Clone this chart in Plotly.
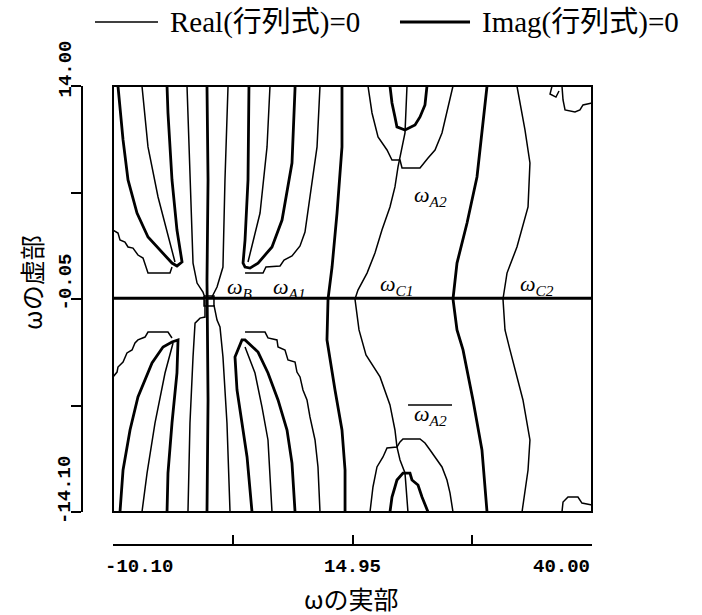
import plotly.graph_objects as go

# Axis ranges (real part / imaginary part of omega) and tick marks
RE_MIN, RE_MAX = -10.10, 40.00
IM_MIN, IM_MAX = -14.10, 14.00
x_tick_vals = [-10.10, 2.425, 14.95, 27.475, 40.00]
x_tick_text = ["-10.10", "", "14.95", "", "40.00"]
y_tick_vals = [-14.10, -7.075, -0.05, 6.975, 14.00]
y_tick_text = ["-14.10", "", "-0.05", "", "14.00"]

# ---------------- Imag(det) = 0 contours (thick) ----------------
im_axis_x = [-10.10, 40.00]
im_axis_y = [0.0, 0.0]

im_ul_u_x = [-9.58, -9.37, -9.05, -8.53, -7.59, -6.44, -4.87, -3.93, -3.41, -2.88, -3.41, -3.93, -4.35, -4.45]
im_ul_u_y = [14.00, 12.42, 10.44, 7.80, 5.62, 4.04, 2.98, 2.32, 2.13, 2.39, 4.50, 7.80, 12.22, 14.00]

im_center_x = [-0.27, -0.16, -0.27, -0.16, -0.27]
im_center_y = [14.00, 7.80, 1.20, -6.71, -14.10]

im_ur_u_x = [4.12, 4.02, 3.71, 3.50, 3.71, 4.23, 5.07, 6.53, 7.58, 8.62, 8.94, 8.94]
im_ur_u_y = [14.00, 7.80, 3.84, 2.32, 2.06, 1.99, 2.32, 3.38, 5.16, 8.92, 13.87, 14.00]

im_c1_left_x = [13.85, 13.85, 13.33, 12.81, 12.39, 12.28, 13.12, 13.85, 14.17, 14.17]
im_c1_left_y = [14.00, 9.98, 5.62, 2.06, -0.05, -2.75, -6.05, -8.69, -11.33, -14.10]

im_a2_up_x = [18.87, 19.08, 19.39, 19.60, 20.44, 21.49, 22.01, 22.53, 22.74]
im_a2_up_y = [14.00, 12.88, 11.96, 11.30, 11.10, 11.43, 11.96, 12.75, 14.00]

im_c1_right_x = [29.02, 28.49, 27.97, 26.93, 25.88, 25.46, 25.88, 26.51, 27.55, 28.49, 29.02]
im_c1_right_y = [14.00, 11.10, 8.00, 4.96, 2.32, -0.05, -2.09, -3.41, -6.71, -10.01, -14.10]

im_ll_u_x = [-9.37, -9.05, -8.32, -7.49, -6.02, -4.87, -3.93, -3.30, -3.41, -3.93, -4.35, -4.45]
im_ll_u_y = [-14.10, -11.33, -8.69, -6.51, -4.27, -3.22, -2.89, -2.75, -4.93, -8.23, -11.53, -14.10]

im_lr_u_x = [4.44, 3.92, 3.39, 2.87, 2.66, 3.39, 3.71, 5.07, 6.11, 7.16, 8.10, 8.62, 8.94]
im_lr_u_y = [-14.10, -10.47, -8.23, -6.05, -3.87, -2.75, -2.75, -3.55, -4.93, -6.71, -8.69, -10.87, -14.10]

im_a2_low_x = [18.87, 19.08, 19.39, 19.60, 20.23, 20.96, 21.17, 21.80, 22.22, 22.85]
im_a2_low_y = [-14.10, -13.11, -12.45, -11.99, -11.53, -11.53, -11.99, -12.32, -13.11, -14.10]

# ---------------- Real(det) = 0 contours (thin) ----------------
re_ul_mid_x = [-7.07, -6.44, -5.39, -4.45, -3.82, -3.62]
re_ul_mid_y = [14.00, 9.98, 6.68, 4.50, 2.98, 2.39]

re_ul_stair_x = [-10.10, -9.58, -9.37, -8.85, -8.53, -8.01, -7.49, -6.96, -6.44, -4.14, -3.93]
re_ul_stair_y = [4.50, 4.30, 3.84, 3.71, 3.38, 3.31, 2.85, 2.65, 1.66, 1.66, 2.06]

re_cu_left_x = [-2.36, -2.05, -1.73, -1.31, -0.69, -0.48]
re_cu_left_y = [14.00, 7.80, 2.32, 1.00, 0.41, 0.01]

re_cu_right_x = [1.93, 1.61, 1.40, 0.78, 0.25]
re_cu_right_y = [14.00, 7.80, 2.06, 0.74, 0.08]

re_ur_mid_x = [6.32, 6.01, 5.28, 4.44, 4.02]
re_ur_mid_y = [14.00, 9.98, 5.62, 3.38, 2.39]

re_ur_stair_x = [3.71, 5.59, 5.90, 7.37, 7.79, 8.62, 9.46, 9.98, 10.50, 11.24, 11.55]
re_ur_stair_y = [1.66, 1.66, 2.06, 2.13, 2.52, 2.79, 3.45, 4.37, 6.68, 9.98, 14.00]

re_center_box_x = [-0.58, 0.46, 0.46, -0.58, -0.58]
re_center_box_y = [0.15, 0.15, -0.52, -0.52, 0.15]

re_a2_through_x = [20.65, 20.55, 20.44, 19.71, 19.39, 18.87, 18.03, 17.30, 16.47, 15.52, 15.21,
                   15.63, 16.36, 17.83, 18.87, 19.39, 19.60, 19.92, 20.44, 20.75]
re_a2_through_y = [14.00, 12.22, 10.90, 8.66, 7.34, 6.02, 4.50, 2.98, 1.66, 0.54, -0.05,
                   -2.09, -3.74, -5.19, -7.04, -8.69, -9.81, -10.67, -11.53, -14.10]

re_a2_up_x = [16.57, 16.99, 17.62, 18.56, 19.08, 19.92, 20.13, 22.01, 22.85, 23.58, 24.31, 24.83, 25.46]
re_a2_up_y = [14.00, 12.22, 10.64, 9.78, 9.12, 9.12, 8.59, 8.59, 9.25, 9.78, 10.90, 12.22, 14.00]

re_c2_x = [32.15, 32.99, 33.51, 33.31, 32.15, 31.11, 30.69, 30.90, 31.42, 32.78, 33.51, 33.31, 32.68]
re_c2_y = [14.00, 11.10, 8.92, 6.02, 3.38, 1.66, -0.05, -2.09, -3.41, -6.71, -9.35, -11.33, -14.10]

re_corner_top_x = [36.86, 36.97, 37.18, 38.22, 38.74, 39.06, 40.00]
re_corner_top_y = [14.00, 13.08, 12.42, 12.29, 12.42, 12.75, 12.88]

re_corner_hook_x = [35.82, 35.61, 36.23, 36.55]
re_corner_hook_y = [14.00, 13.47, 13.27, 13.67]

re_corner_bot_x = [36.86, 36.97, 37.49, 38.53, 38.95, 40.00]
re_corner_bot_y = [-14.10, -13.44, -13.11, -13.11, -13.51, -13.64]

re_cl_left_x = [-0.48, -0.48, -1.00, -1.52, -1.73, -2.05, -2.26]
re_cl_left_y = [-0.12, -1.24, -1.31, -1.64, -3.87, -8.23, -14.10]

re_cl_right_x = [0.46, 0.78, 1.09, 1.40, 1.82, 2.14]
re_cl_right_y = [-0.45, -1.44, -1.90, -3.87, -8.23, -14.10]

re_ll_stair_x = [-10.10, -9.68, -9.58, -9.05, -8.64, -8.11, -7.80, -7.49, -6.75, -6.44, -4.35, -3.93]
re_ll_stair_y = [-5.19, -4.87, -4.54, -4.21, -3.61, -3.41, -2.95, -2.75, -2.56, -2.23, -2.23, -2.62]

re_ll_mid_x = [-3.82, -4.66, -5.71, -6.54, -7.07]
re_ll_mid_y = [-2.95, -4.93, -8.23, -11.53, -14.10]

re_lr_mid_x = [3.71, 4.75, 5.48, 6.11, 6.53]
re_lr_mid_y = [-3.22, -4.93, -7.17, -9.35, -14.10]

re_lr_stair_x = [3.71, 5.80, 6.11, 7.05, 7.16, 7.89, 8.20, 8.94, 9.14, 9.46, 9.77, 10.19, 10.50, 11.03, 11.34, 11.55]
re_lr_stair_y = [-2.23, -2.23, -2.62, -2.75, -3.22, -3.41, -4.07, -4.21, -4.87, -5.19, -6.05, -6.71, -7.83, -9.35, -11.13, -14.10]

re_a2_low_x = [16.78, 17.09, 17.51, 18.14, 18.56, 19.60, 19.92, 20.23, 22.01, 22.53, 23.06, 23.79, 24.31, 24.83, 25.15, 25.46]
re_a2_low_y = [-14.10, -12.45, -11.13, -10.47, -9.88, -9.81, -9.48, -9.28, -9.28, -9.55, -10.01, -10.67, -11.13, -11.99, -12.85, -14.10]

# Root labels
root_text = ["ω<sub>B</sub>", "ω<sub>A1</sub>", "ω<sub>C1</sub>", "ω<sub>C2</sub>", "ω<sub>A2</sub>", "ω<sub>A2</sub>"]
root_re = [3.18, 8.41, 19.60, 34.25, 23.16, 23.06]
root_im = [0.67, 0.67, 0.87, 0.87, 6.74, -7.70]
root_conj = [False, False, False, False, False, True]

imag_curves = [
    (im_axis_x, im_axis_y), (im_ul_u_x, im_ul_u_y), (im_center_x, im_center_y),
    (im_ur_u_x, im_ur_u_y), (im_c1_left_x, im_c1_left_y), (im_a2_up_x, im_a2_up_y),
    (im_c1_right_x, im_c1_right_y), (im_ll_u_x, im_ll_u_y), (im_lr_u_x, im_lr_u_y),
    (im_a2_low_x, im_a2_low_y),
]
real_curves = [
    (re_ul_mid_x, re_ul_mid_y), (re_ul_stair_x, re_ul_stair_y), (re_cu_left_x, re_cu_left_y),
    (re_cu_right_x, re_cu_right_y), (re_ur_mid_x, re_ur_mid_y), (re_ur_stair_x, re_ur_stair_y),
    (re_center_box_x, re_center_box_y), (re_a2_through_x, re_a2_through_y), (re_a2_up_x, re_a2_up_y),
    (re_c2_x, re_c2_y), (re_corner_top_x, re_corner_top_y), (re_corner_hook_x, re_corner_hook_y),
    (re_corner_bot_x, re_corner_bot_y), (re_cl_left_x, re_cl_left_y), (re_cl_right_x, re_cl_right_y),
    (re_ll_stair_x, re_ll_stair_y), (re_ll_mid_x, re_ll_mid_y), (re_lr_mid_x, re_lr_mid_y),
    (re_lr_stair_x, re_lr_stair_y), (re_a2_low_x, re_a2_low_y),
]

THIN_W = 1.5
THICK_W = 2.8

fig = go.Figure()
for xs, ys in real_curves:
    fig.add_trace(go.Scatter(x=xs, y=ys, mode="lines", showlegend=False, hoverinfo="skip",
                             line=dict(color="black", width=THIN_W)))
for xs, ys in imag_curves:
    fig.add_trace(go.Scatter(x=xs, y=ys, mode="lines", showlegend=False, hoverinfo="skip",
                             line=dict(color="black", width=THICK_W)))

MONO = "Liberation Mono, DejaVu Sans Mono, monospace"
SERIF = "Liberation Serif, Noto Sans CJK JP, serif"
CJK = "Noto Sans CJK JP, sans-serif"

annotations = []
shapes = []

# Frame around the data region
shapes.append(dict(type="rect", xref="x domain", yref="y domain", x0=0, x1=1, y0=0, y1=1,
                   line=dict(color="black", width=2)))

# Root labels
for txt, xr, yi, conj in zip(root_text, root_re, root_im, root_conj):
    annotations.append(dict(x=xr, y=yi, xref="x", yref="y", text="<i>" + txt + "</i>",
                            showarrow=False, xanchor="center", yanchor="middle",
                            font=dict(family=SERIF, size=22, color="black")))
    if conj:
        shapes.append(dict(type="line", xref="x", yref="y", x0=xr - 2.3, x1=xr + 2.3,
                           y0=yi + 0.66, y1=yi + 0.66, line=dict(color="black", width=1.6)))

# Tick labels on the detached axes
for i, (v, t) in enumerate(zip(x_tick_vals, x_tick_text)):
    if not t:
        continue
    anchor = "left" if i == 0 else ("right" if i == len(x_tick_vals) - 1 else "center")
    shift = -10 if i == 0 else 0
    annotations.append(dict(x=v, y=-0.048, xref="x", yref="paper", text="<b>" + t + "</b>",
                            showarrow=False, xanchor=anchor, yanchor="middle", xshift=shift,
                            font=dict(family=MONO, size=19, color="black")))
for v, t in zip(y_tick_vals, y_tick_text):
    if not t:
        continue
    annotations.append(dict(x=-0.0333, y=v, xref="paper", yref="y", text="<b>" + t + "</b>",
                            showarrow=False, textangle=-90, xanchor="center", yanchor="bottom",
                            yshift=-14, font=dict(family=MONO, size=19, color="black")))

# Axis titles
annotations.append(dict(x=0.529, y=-0.1155, xref="paper", yref="paper", text="ωの実部",
                        showarrow=False, xanchor="center", yanchor="middle",
                        font=dict(family=CJK, size=25, color="black")))
annotations.append(dict(x=-0.10, y=0.571, xref="paper", yref="paper", text="ωの虚部",
                        showarrow=False, textangle=-90, xanchor="center", yanchor="middle",
                        font=dict(family=CJK, size=25, color="black")))

# Line-style key above the chart
key_y = 1.1394
shapes.append(dict(type="line", xref="paper", yref="paper", x0=0.0255, x1=0.149, y0=key_y, y1=key_y,
                   line=dict(color="black", width=THIN_W)))
shapes.append(dict(type="line", xref="paper", yref="paper", x0=0.6235, x1=0.7608, y0=key_y, y1=key_y,
                   line=dict(color="black", width=THICK_W + 0.4)))
annotations.append(dict(x=0.1686, y=key_y, xref="paper", yref="paper", text="Real(行列式)=0",
                        showarrow=False, xanchor="left", yanchor="middle",
                        font=dict(family=SERIF, size=29, color="black")))
annotations.append(dict(x=0.7804, y=key_y, xref="paper", yref="paper", text="Imag(行列式)=0",
                        showarrow=False, xanchor="left", yanchor="middle",
                        font=dict(family=SERIF, size=29, color="black")))

fig.update_layout(
    width=702, height=615,
    margin=dict(l=82, r=110, t=86, b=70),
    paper_bgcolor="white", plot_bgcolor="white",
    shapes=shapes, annotations=annotations,
    xaxis=dict(domain=[0.0608, 1], range=[RE_MIN, RE_MAX], anchor="free", position=0,
               showline=True, linecolor="black", linewidth=2, mirror=False,
               ticks="inside", ticklen=9, tickwidth=2, tickcolor="black",
               tickvals=x_tick_vals, showticklabels=False, showgrid=False, zeroline=False),
    yaxis=dict(domain=[0.0719, 1], range=[IM_MIN, IM_MAX], anchor="free", position=0,
               showline=True, linecolor="black", linewidth=2, mirror=False,
               ticks="outside", ticklen=10, tickwidth=2, tickcolor="black",
               tickvals=y_tick_vals, showticklabels=False, showgrid=False, zeroline=False),
)

fig.write_html("out.html")
